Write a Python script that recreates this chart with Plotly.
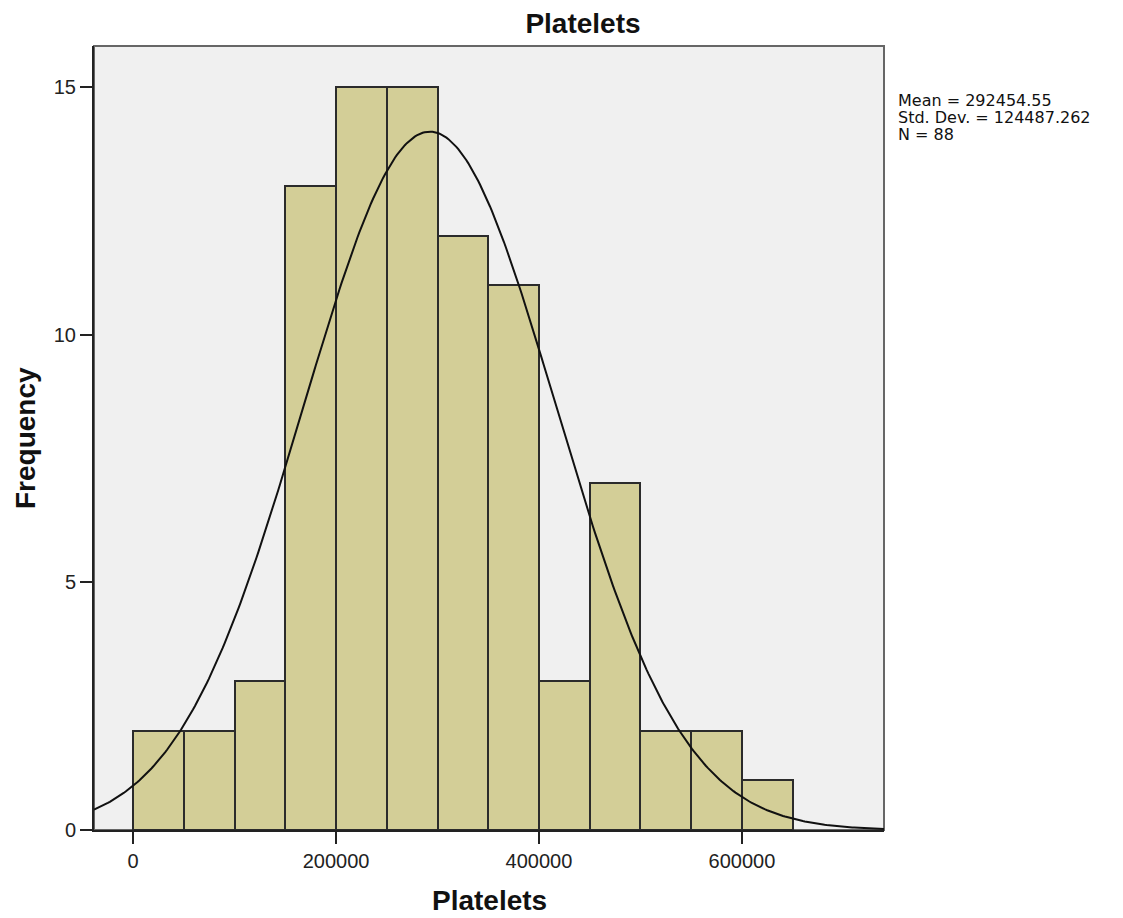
import numpy as np
import plotly.graph_objects as go

bin_starts = [0, 50000, 100000, 150000, 200000, 250000, 300000, 350000, 400000, 450000, 500000, 550000, 600000]
counts = [2, 2, 3, 13, 15, 15, 12, 11, 3, 7, 2, 2, 1]
bin_width = 50000
mean = 292454.55
sd = 124487.262
n = 88
x_ticks = [0, 200000, 400000, 600000]
y_ticks = [0, 5, 10, 15]
stats_lines = ["Mean = 292454.55", "Std. Dev. = 124487.262", "N = 88"]

centers = [s + bin_width / 2 for s in bin_starts]
xr = [-38500, 740000]
xc = np.linspace(xr[0], xr[1], 400)
yc = n * bin_width / (sd * np.sqrt(2 * np.pi)) * np.exp(-0.5 * ((xc - mean) / sd) ** 2)

fig = go.Figure()
fig.add_trace(go.Bar(x=centers, y=counts, width=bin_width,
                     marker=dict(color="#D3CE97", line=dict(color="#2b2b2b", width=2)),
                     showlegend=False, hoverinfo="skip"))
fig.add_trace(go.Scatter(x=xc, y=yc, mode="lines", line=dict(color="#111111", width=2),
                         showlegend=False, hoverinfo="skip"))

font = "Liberation Sans, Arial, sans-serif"
stat_font = "DejaVu Sans, Liberation Sans, sans-serif"
# page body has an 8px offset
L, T, R, B = 94 - 8, 46 - 8, 1123 - (884 - 8), 918 - (830 - 8)
pw, ph = 790, 784

ann = []
for i, s in enumerate(stats_lines):
    ann.append(dict(xref="paper", yref="paper", x=(896 - 94) / pw, y=1 - (100 + 17.5 * i - 46) / ph,
                    xanchor="left", yanchor="middle", align="left", showarrow=False, text=s,
                    font=dict(size=16, family=stat_font, color="#111111")))
ann.append(dict(xref="paper", yref="paper", x=0.5, y=0, yanchor="middle", yshift=-70,
                showarrow=False, text="<b>Platelets</b>", font=dict(size=28, family=font, color="#111111")))
ann.append(dict(xref="paper", yref="paper", x=0, y=0.5, xanchor="center", xshift=-69, textangle=-90,
                showarrow=False, text="<b>Frequency</b>", font=dict(size=28, family=font, color="#111111")))

fig.update_layout(
    width=1123, height=918,
    margin=dict(l=L, r=R, t=T, b=B),
    paper_bgcolor="white", plot_bgcolor="#F0F0F0",
    font=dict(family=font, color="#111111"),
    title=dict(text="<b>Platelets</b>", x=(583 - 8) / 1123, xanchor="center", y=1 - (23 - 8) / 918, yanchor="middle",
               font=dict(size=28, family=font, color="#111111")),
    bargap=0,
    xaxis=dict(range=xr, tickvals=x_ticks, ticktext=[str(v) for v in x_ticks],
               ticks="outside", ticklen=12, tickwidth=2, tickcolor="#222",
               showgrid=False, zeroline=False, showline=True, linecolor="#222", linewidth=2,
               tickfont=dict(size=20, color="#222")),
    yaxis=dict(range=[0, 15.83], tickvals=y_ticks, ticks="outside", ticklen=12, tickwidth=2, tickcolor="#222",
               showgrid=False, zeroline=False, showline=True, linecolor="#222", linewidth=2,
               tickfont=dict(size=20, color="#222")),
    shapes=[dict(type="rect", xref="paper", yref="paper", x0=0, x1=1, y0=0, y1=1,
                 line=dict(color="#666666", width=2), fillcolor="rgba(0,0,0,0)", layer="below")],
    annotations=ann,
)
fig.write_html("out.html")
